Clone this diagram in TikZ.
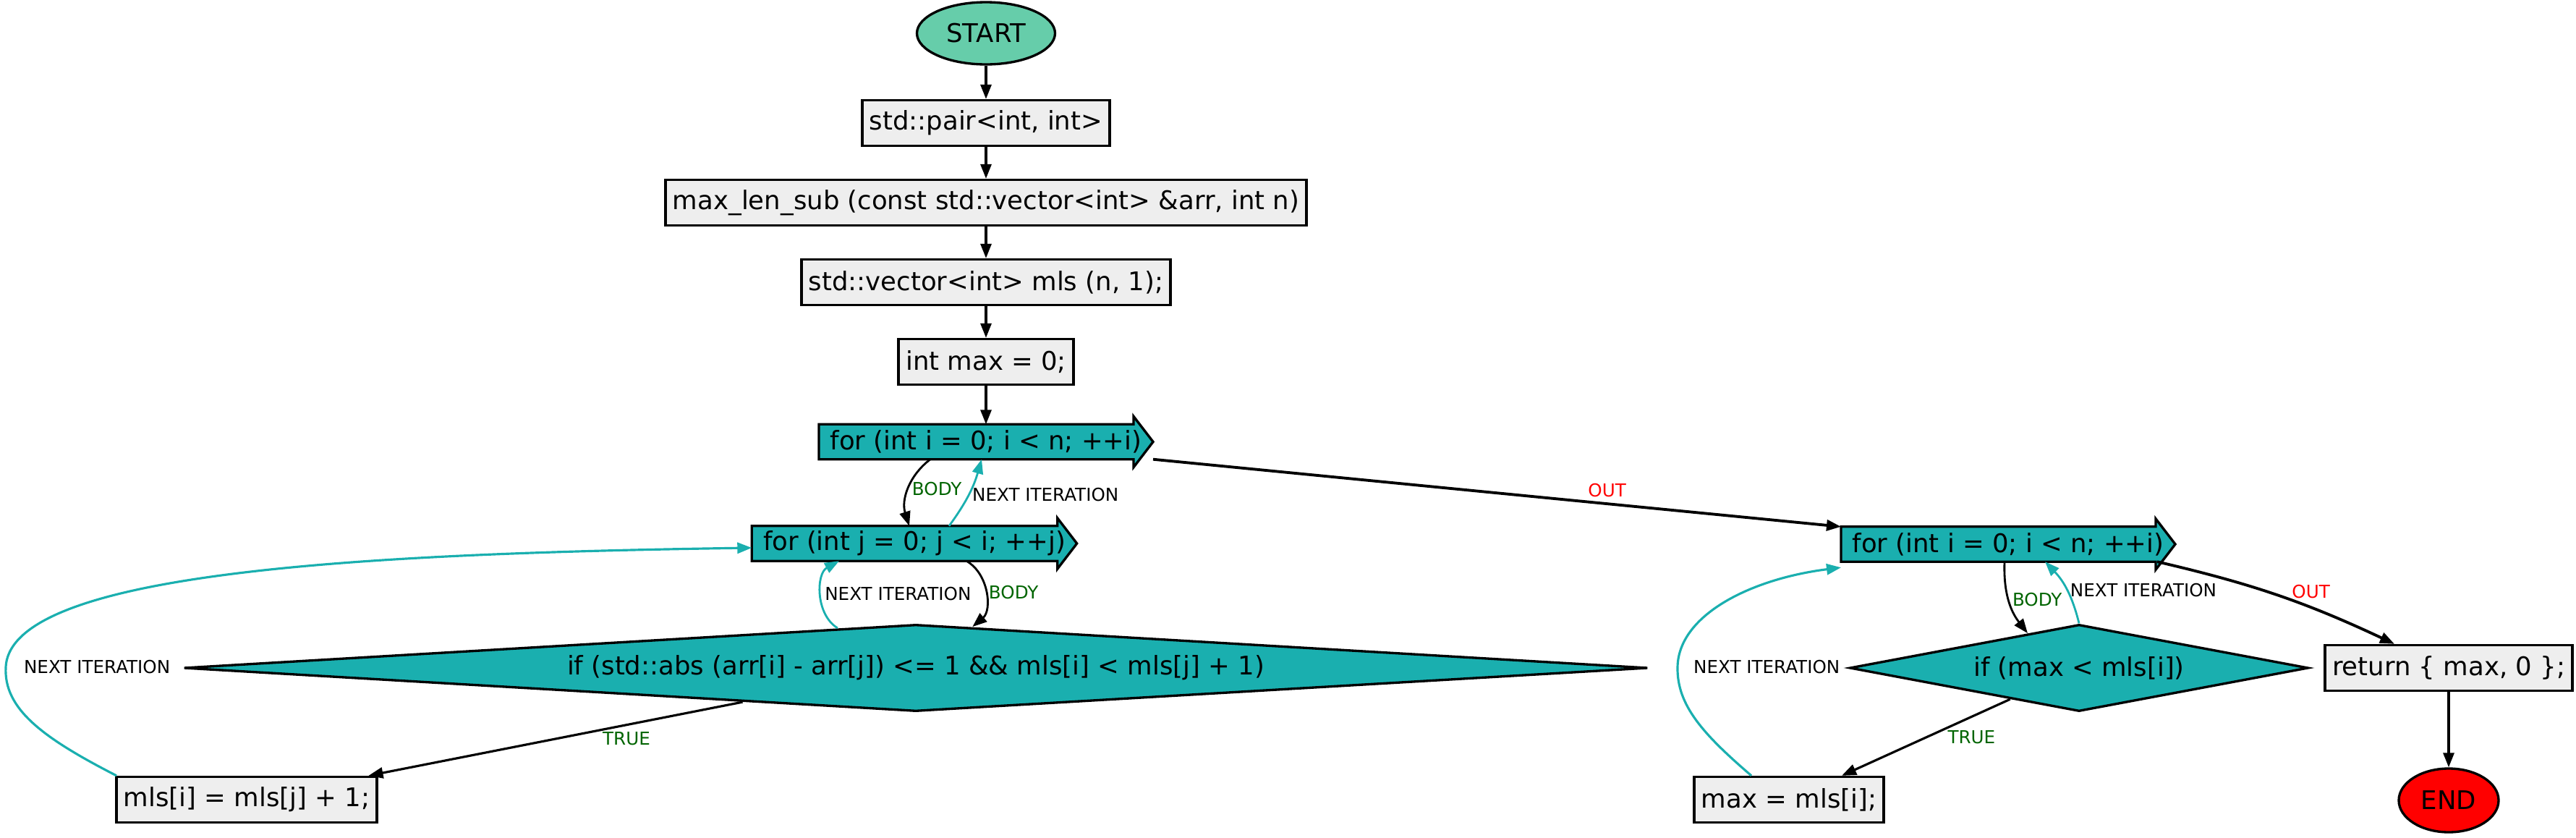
\documentclass[tikz,border=0pt]{standalone}
\usepackage{fontspec}
\setmainfont{DejaVu Sans}
\usetikzlibrary{shapes.geometric}
\usetikzlibrary{calc}
\usetikzlibrary{arrows.meta}
\usetikzlibrary{backgrounds}

\definecolor{startgreen}{HTML}{66CDAA}
\definecolor{loopteal}{HTML}{1AAFAF}
\definecolor{boxgray}{HTML}{EEEEEE}
\definecolor{labelgreen}{HTML}{006400}

\begin{document}
\begin{tikzpicture}[
		stmt/.style={rectangle, draw, fill=boxgray, line width=0.95pt, minimum height=0.63cm, inner xsep=0.1cm, inner ysep=0pt, font=\fontsize{10.1}{12}\selectfont},
		loopnode/.style={rectangle, minimum height=0.47cm, inner xsep=0.15cm, inner ysep=0pt, font=\fontsize{10.1}{12}\selectfont},
		condnode/.style={diamond, draw, fill=loopteal, line width=0.95pt, inner sep=0pt, font=\fontsize{10.1}{12}\selectfont},
		termnode/.style={ellipse, draw, line width=0.95pt, inner sep=0pt, font=\fontsize{10.1}{12}\selectfont},
		flow/.style={-{Triangle[length=0.2cm, width=0.15cm]}, line width=0.9pt},
		back/.style={flow, draw=loopteal},
		lbl/.style={font=\fontsize{7}{8}\selectfont, inner sep=1pt}
	]
		\useasboundingbox (0, 0) rectangle (35.61, -11.57);

		\node[termnode, fill=startgreen, minimum width=1.91cm, minimum height=0.86cm] (start) at (13.63, -0.46) {START};
		\node[stmt] (pair) at (13.63, -1.70) {std::pair<int, int>};
		\node[stmt] (maxlen) at (13.63, -2.80) {max\_len\_sub (const std::vector<int> \&arr, int n)};
		\node[stmt] (mlsdecl) at (13.63, -3.90) {std::vector<int> mls (n, 1);};
		\node[stmt] (maxinit) at (13.63, -5.00) {int max = 0;};

		\node[loopnode] (fori) at (13.63, -6.105) {for (int i = 0; i < n; ++i)};
		\node[loopnode] (forj) at (12.64, -7.51) {for (int j = 0; j < i; ++j)};
		\node[condnode, aspect=16.87, minimum width=20.24cm, minimum height=1.2cm] (cond1) at (12.66, -9.23) {if (std::abs (arr[i] - arr[j]) <= 1 \&\& mls[i] < mls[j] + 1)};
		\node[stmt] (mlsset) at (3.41, -11.05) {mls[i] = mls[j] + 1;};

		\node[loopnode] (fori2) at (27.76, -7.52) {for (int i = 0; i < n; ++i)};
		\node[condnode, aspect=5.28, minimum width=6.34cm, minimum height=1.2cm] (cond2) at (28.74, -9.23) {if (max < mls[i])};
		\node[stmt] (maxset) at (24.73, -11.05) {max = mls[i];};
		\node[stmt] (ret) at (33.85, -9.23) {return \{ max, 0 \};};
		\node[termnode, fill=red, minimum width=1.38cm, minimum height=0.88cm] (stop) at (33.85, -11.06) {END};

		% loop headers
		\begin{scope}[on background layer]
			\draw[line width=0.95pt, fill=loopteal] (fori.north west) -- ($(fori.north east)+(-0.27,0)$) -- ++(0,0.11) -- (fori.east) -- ($(fori.south east)+(-0.27,-0.11)$) -- ++(0,0.11) -- (fori.south west) -- cycle;
			\draw[line width=0.95pt, fill=loopteal] (forj.north west) -- ($(forj.north east)+(-0.27,0)$) -- ++(0,0.11) -- (forj.east) -- ($(forj.south east)+(-0.27,-0.11)$) -- ++(0,0.11) -- (forj.south west) -- cycle;
			\draw[line width=0.95pt, fill=loopteal] (fori2.north west) -- ($(fori2.north east)+(-0.27,0)$) -- ++(0,0.11) -- (fori2.east) -- ($(fori2.south east)+(-0.27,-0.11)$) -- ++(0,0.11) -- (fori2.south west) -- cycle;
		\end{scope}

		% straight part
		\draw[flow] (start) -- (pair);
		\draw[flow] (pair) -- (maxlen);
		\draw[flow] (maxlen) -- (mlsdecl);
		\draw[flow] (mlsdecl) -- (maxinit);
		\draw[flow] (maxinit) -- (fori);

		% outer loop
		\draw[flow, line width=0.8pt] ([xshift=-0.77cm]fori.south) to[bend right=35] node[lbl, right, text=labelgreen] {BODY} ([xshift=-0.07cm]forj.north);
		\draw[back, line width=0.8pt] ([xshift=0.48cm]forj.north) to[bend right=10] node[lbl, right] {NEXT ITERATION} ([xshift=-0.06cm]fori.south);
		\draw[flow, line width=1.1pt] (fori.south east) -- node[lbl, above=1pt, pos=0.66, text=red] {OUT} (fori2.north west);

		% inner loop
		\draw[flow, line width=0.8pt] ([xshift=0.72cm]forj.south) to[bend left=55] node[lbl, right, text=labelgreen] {BODY} (cond1.36);
		\draw[back, line width=0.8pt] (cond1.153) to[bend left=60] node[lbl, right] {NEXT ITERATION} ([xshift=-1.04cm]forj.south);
		\draw[flow] (cond1) -- node[lbl, right=0.6cm, pos=0.5, text=labelgreen] {TRUE} (mlsset);
		\draw[back] ([xshift=-1.8cm]mlsset.north) .. controls (0.60, -10.20) and (0.05, -9.80) .. (0.08, -9.22) node[lbl, right=0.2cm] {NEXT ITERATION} .. controls (0.14, -7.90) and (5.00, -7.65) .. ([yshift=-0.06cm]forj.west);

		% second loop
		\draw[flow, line width=0.8pt] ([xshift=-0.05cm]fori2.south) to[bend right=20] node[lbl, right, text=labelgreen] {BODY} (cond2.146);
		\draw[back, line width=0.8pt] (cond2.north) to[bend right=15] node[lbl, right] {NEXT ITERATION} ([xshift=0.51cm]fori2.south);
		\draw[flow] (cond2) -- node[lbl, right=0.25cm, pos=0.5, text=labelgreen] {TRUE} (maxset);
		\draw[back] ([xshift=-0.52cm]maxset.north) .. controls (23.55, -10.15) and (23.18, -9.75) .. (23.19, -9.22) node[lbl, right=0.17cm] {NEXT ITERATION} .. controls (23.20, -8.50) and (24.20, -8.00) .. ([yshift=-0.08cm]fori2.south west);
		\draw[flow, line width=1.1pt] ([xshift=-0.25cm]fori2.south east) to[bend left=6] node[lbl, above=2pt, pos=0.65, text=red] {OUT} ([xshift=-0.75cm]ret.north);
		\draw[flow] (ret) -- (stop);
\end{tikzpicture}
\end{document}
